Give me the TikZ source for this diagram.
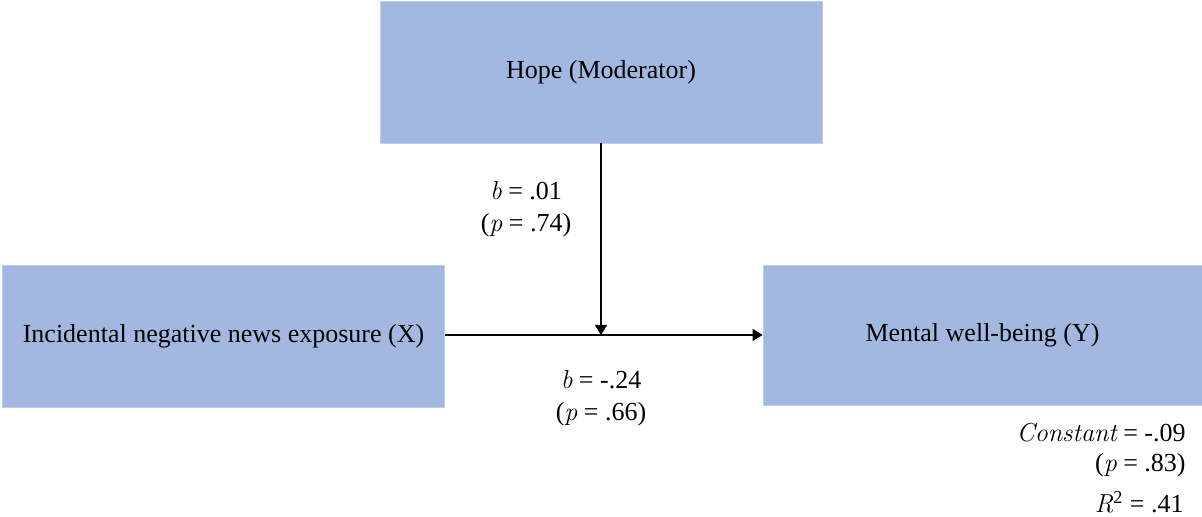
\documentclass[tikz,border=0pt]{standalone}
\usepackage{fontspec}
\setmainfont{Liberation Serif}
\usetikzlibrary{arrows.meta,positioning}
\definecolor{boxblue}{RGB}{162,184,224}
\newcommand{\statit}[1]{{\fontfamily{lmr}\itshape #1}}
\begin{document}
\begin{tikzpicture}[x=0.5pt,y=-0.5pt,
      font=\fontsize{13}{16}\selectfont,
      varbox/.style={
        rectangle,
        fill=boxblue, draw=boxblue!70!white, thin,
        minimum width=221pt,
        minimum height=71pt,
        inner sep=0pt,
        align=center
      },
      arrow/.style={
        -{Triangle[length=5pt,width=6pt]},
        line width=0.6pt
      },
      coef/.style={align=center, inner sep=1pt}
    ]
      \useasboundingbox (0,0) rectangle (1202,517);
      \node[varbox] (moderator) at (601,72) {Hope (Moderator)};
      \node[varbox] (predictor) at (223.5,336) {Incidental negative news exposure (X)};
      \node[varbox, minimum width=219.5pt, minimum height=70pt] (outcome) at (982.5,335) {Mental well-being (Y)};
      \coordinate (junction) at (601,335);
      \draw[arrow] (predictor.east |- junction) -- (outcome.west |- junction);
      \draw[arrow] (moderator.south) -- (junction);
      \node[coef] (modcoef) at (526,209) {\statit{b} = .01\\(\statit{p} = .74)};
      \node[coef] (xcoef) at (601,398) {\statit{b} = -.24\\(\statit{p} = .66)};
      \node[anchor=east, inner sep=0pt] (constant) at (1186,433) {\statit{Constant} = -.09};
      \node[anchor=east, inner sep=0pt] (constp) at (1186,465) {(\statit{p} = .83)};
      \node[anchor=east, inner sep=0pt] (rsq) at (1184,502) {\statit{R}\textsuperscript{2} = .41};
    \end{tikzpicture}
\end{document}
